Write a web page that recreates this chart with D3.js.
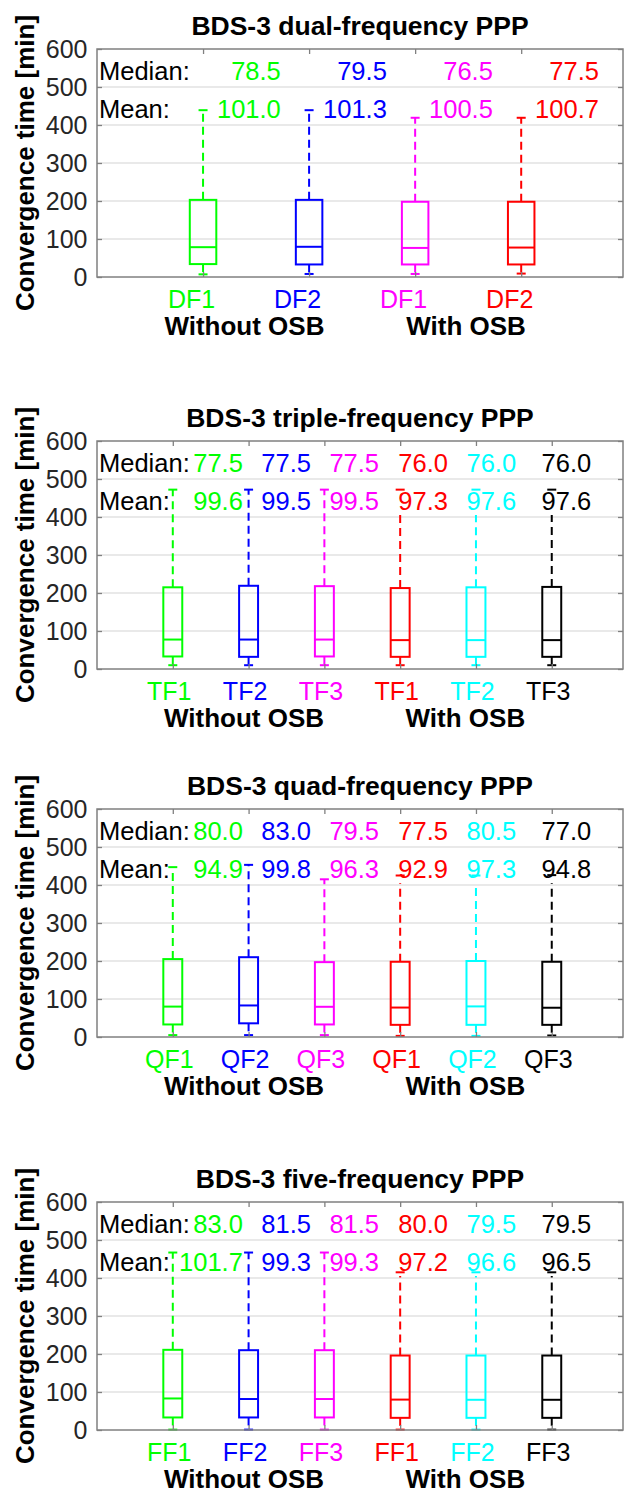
<!DOCTYPE html>
<html>
<head>
<meta charset="utf-8">
<script src="https://cdn.jsdelivr.net/npm/d3@7"></script>
<style>
  html, body { margin: 0; padding: 0; background: #ffffff; }
  svg { display: block; }
  text { font-family: "Liberation Sans", Arial, Helvetica, sans-serif; }
</style>
</head>
<body>
<div id="chart"></div>
<script>
// ---------------- DATA ----------------
const yTicks = [0, 100, 200, 300, 400, 500, 600];
const titles = ["BDS-3 dual-frequency PPP", "BDS-3 triple-frequency PPP",
                "BDS-3 quad-frequency PPP", "BDS-3 five-frequency PPP"];
const groupLabels = ["Without OSB", "With OSB"];
const yLabel = "Convergence time [min]";

const colors4 = ["#00ff00", "#0000ff", "#ff00ff", "#ff0000"];
const colors6 = ["#00ff00", "#0000ff", "#ff00ff", "#ff0000", "#00ffff", "#000000"];

// dual-frequency
const cats1 = ["DF1", "DF2", "DF1", "DF2"];
const median1 = [78.5, 79.5, 76.5, 77.5];
const mean1 = [101.0, 101.3, 100.5, 100.7];
const lo1 = [7, 8, 8, 9];
const q1_1 = [34, 33, 33, 33];
const q3_1 = [203, 203, 198, 198];
const hi1 = [439, 439, 419, 419];

// triple-frequency
const cats2 = ["TF1", "TF2", "TF3", "TF1", "TF2", "TF3"];
const median2 = [77.5, 77.5, 77.5, 76.0, 76.0, 76.0];
const mean2 = [99.6, 99.5, 99.5, 97.3, 97.6, 97.6];
const lo2 = [10, 10, 10, 10, 10, 10];
const q1_2 = [33, 32, 33, 32, 32, 32];
const q3_2 = [215, 219, 218, 213, 215, 216];
const hi2 = [472, 472, 472, 472, 472, 472];

// quad-frequency
const cats3 = ["QF1", "QF2", "QF3", "QF1", "QF2", "QF3"];
const median3 = [80.0, 83.0, 79.5, 77.5, 80.5, 77.0];
const mean3 = [94.9, 99.8, 96.3, 92.9, 97.3, 94.8];
const lo3 = [5, 5, 5, 3, 3, 4];
const q1_3 = [33, 36, 33, 32, 32, 32];
const q3_3 = [205, 210, 197, 198, 200, 198];
const hi3 = [447, 453, 415, 425, 425, 426];

// five-frequency
const cats4 = ["FF1", "FF2", "FF3", "FF1", "FF2", "FF3"];
const median4 = [83.0, 81.5, 81.5, 80.0, 79.5, 79.5];
const mean4 = [101.7, 99.3, 99.3, 97.2, 96.6, 96.5];
const lo4 = [1, 1, 1, 1, 1, 1];
const q1_4 = [33, 33, 33, 32, 32, 32];
const q3_4 = [211, 210, 210, 196, 196, 196];
const hi4 = [467, 467, 467, 415, 415, 415];

// ---------------- LAYOUT ----------------
const W = 627, H = 1494;
const axLeft = 97, axRight = 623, axH = 228;
const panelTops = [49, 441, 809, 1202];
const FONT_TICK = 25, FONT_VAL = 25.5, FONT_TITLE = 26.5, FONT_GROUP = 26, FONT_YLAB = 26;
const TEXT_GRAY = "#262626";

const panels = [
  { title: titles[0], cats: cats1, colors: colors4, med: median1, mean: mean1, lo: lo1, q1: q1_1, q3: q3_1, hi: hi1,
    xmax: 4.96, labelEnd: [1.733, 2.733, 3.733, 4.733], groupX: [1.39, 3.48], catShift: -12 },
  { title: titles[1], cats: cats2, colors: colors6, med: median2, mean: mean2, lo: lo2, q1: q1_2, q3: q3_2, hi: hi2,
    xmax: 6.94, labelEnd: [1.925, 2.823, 3.721, 4.63, 5.53, 6.52], groupX: [1.94, 4.86], catShift: -4 },
  { title: titles[2], cats: cats3, colors: colors6, med: median3, mean: mean3, lo: lo3, q1: q1_3, q3: q3_3, hi: hi3,
    xmax: 6.94, labelEnd: [1.925, 2.823, 3.721, 4.63, 5.53, 6.52], groupX: [1.94, 4.86], catShift: -4 },
  { title: titles[3], cats: cats4, colors: colors6, med: median4, mean: mean4, lo: lo4, q1: q1_4, q3: q3_4, hi: hi4,
    xmax: 6.94, labelEnd: [1.925, 2.823, 3.721, 4.63, 5.53, 6.52], groupX: [1.94, 4.86], catShift: -4 }
];

const svg = d3.select("#chart").append("svg")
  .attr("width", W).attr("height", H)
  .attr("viewBox", `0 0 ${W} ${H}`);
svg.append("rect").attr("width", W).attr("height", H).attr("fill", "#ffffff");

panels.forEach((p, pi) => {
  const top = panelTops[pi];
  const bottom = top + axH;
  const n = p.cats.length;
  const pos = d3.range(1, n + 1);
  const x = d3.scaleLinear().domain([0, p.xmax]).range([axLeft, axRight]);
  const y = d3.scaleLinear().domain([0, 600]).range([bottom, top]);
  const g = svg.append("g");

  // grid
  g.append("g").selectAll("line").data(yTicks.filter(t => t > 0 && t < 600)).join("line")
    .attr("x1", axLeft).attr("x2", axRight)
    .attr("y1", d => y(d)).attr("y2", d => y(d))
    .attr("stroke", "#e2e2e2").attr("stroke-width", 1.3);

  // whiskers (dashed)
  const boxW = 0.25;
  const capHalf = 4.5;
  const wg = g.append("g");
  pos.forEach((v, i) => {
    wg.append("line").attr("x1", x(v)).attr("x2", x(v))
      .attr("y1", y(p.q3[i])).attr("y2", y(p.hi[i]))
      .attr("stroke", p.colors[i]).attr("stroke-width", 2).attr("stroke-dasharray", "8,5");
    wg.append("line").attr("x1", x(v)).attr("x2", x(v))
      .attr("y1", y(p.q1[i])).attr("y2", y(p.lo[i]))
      .attr("stroke", p.colors[i]).attr("stroke-width", 2).attr("stroke-dasharray", "8,5");
  });

  // statistics text (with white background like MATLAB text boxes)
  const tg = g.append("g");
  const rowMedY = top + 31, rowMeanY = top + 69;
  tg.append("text").attr("x", axLeft + 2).attr("y", rowMedY)
    .attr("font-size", FONT_VAL).attr("fill", "#000").text("Median:");
  tg.append("text").attr("x", axLeft + 2).attr("y", rowMeanY)
    .attr("font-size", FONT_VAL).attr("fill", "#000").text("Mean:");
  const rows = [[p.med, rowMedY], [p.mean, rowMeanY]];
  rows.forEach(([vals, yy]) => {
    vals.forEach((val, i) => {
      const bg = tg.append("rect").attr("fill", "#ffffff");
      const t = tg.append("text").attr("x", x(p.labelEnd[i])).attr("y", yy)
        .attr("text-anchor", "end").attr("font-size", FONT_VAL)
        .attr("fill", p.colors[i]).text(val.toFixed(1));
      const bb = t.node().getBBox();
      bg.attr("x", bb.x - 2).attr("y", bb.y + 1).attr("width", bb.width + 4).attr("height", bb.height - 1);
    });
  });

  // caps, boxes, medians
  const bgp = g.append("g");
  pos.forEach((v, i) => {
    const c = p.colors[i];
    [p.hi[i], p.lo[i]].forEach(val => {
      bgp.append("line").attr("x1", x(v) - capHalf).attr("x2", x(v) + capHalf)
        .attr("y1", y(val)).attr("y2", y(val))
        .attr("stroke", c).attr("stroke-width", 2);
    });
    bgp.append("rect")
      .attr("x", x(v - boxW / 2)).attr("width", x(v + boxW / 2) - x(v - boxW / 2))
      .attr("y", y(p.q3[i])).attr("height", y(p.q1[i]) - y(p.q3[i]))
      .attr("fill", "none").attr("stroke", c).attr("stroke-width", 2);
    bgp.append("line")
      .attr("x1", x(v - boxW / 2)).attr("x2", x(v + boxW / 2))
      .attr("y1", y(p.med[i])).attr("y2", y(p.med[i]))
      .attr("stroke", c).attr("stroke-width", 2);
  });

  // axes
  const axLeftG = g.append("g").attr("transform", `translate(${axLeft},0)`)
    .call(d3.axisLeft(y).tickValues(yTicks).tickSize(-5).tickSizeOuter(0).tickPadding(9.5));
  axLeftG.selectAll("text").attr("font-size", FONT_TICK).attr("fill", TEXT_GRAY)
    .attr("font-family", "Liberation Sans, Arial, sans-serif");
  g.append("g").attr("transform", `translate(${axRight},0)`)
    .call(d3.axisRight(y).tickValues(yTicks).tickSize(-5).tickSizeOuter(0).tickFormat(""));
  g.append("g").attr("transform", `translate(0,${top})`)
    .call(d3.axisTop(x).tickValues(pos).tickSize(-5).tickSizeOuter(0).tickFormat(""));
  const axB = g.append("g").attr("transform", `translate(0,${bottom})`)
    .call(d3.axisBottom(x).tickValues(pos).tickSize(-5).tickSizeOuter(0)
      .tickFormat((d, i) => p.cats[i]));
  axB.selectAll("text").attr("font-size", FONT_TICK).attr("dy", null).attr("y", 31)
    .attr("x", p.catShift)
    .attr("font-family", "Liberation Sans, Arial, sans-serif")
    .attr("fill", (d, i) => p.colors[i]);
  g.selectAll(".tick line").attr("stroke", "#808080").attr("stroke-width", 1.3);
  g.selectAll(".domain").remove();
  g.append("rect").attr("x", axLeft).attr("y", top)
    .attr("width", axRight - axLeft).attr("height", axH)
    .attr("fill", "none").attr("stroke", "#808080").attr("stroke-width", 1.5);

  // titles and labels
  g.append("text").attr("x", (axLeft + axRight) / 2).attr("y", top - 14)
    .attr("text-anchor", "middle").attr("font-size", FONT_TITLE).attr("font-weight", "bold")
    .attr("fill", "#000").text(p.title);
  g.append("text").attr("transform", `translate(34,${(top + bottom) / 2}) rotate(-90)`)
    .attr("text-anchor", "middle").attr("font-size", FONT_YLAB).attr("font-weight", "bold")
    .attr("fill", "#000").text(yLabel);
  groupLabels.forEach((lab, k) => {
    g.append("text").attr("x", x(p.groupX[k])).attr("y", bottom + 58)
      .attr("text-anchor", "middle").attr("font-size", FONT_GROUP).attr("font-weight", "bold")
      .attr("fill", "#000").text(lab);
  });
});
</script>
</body>
</html>
